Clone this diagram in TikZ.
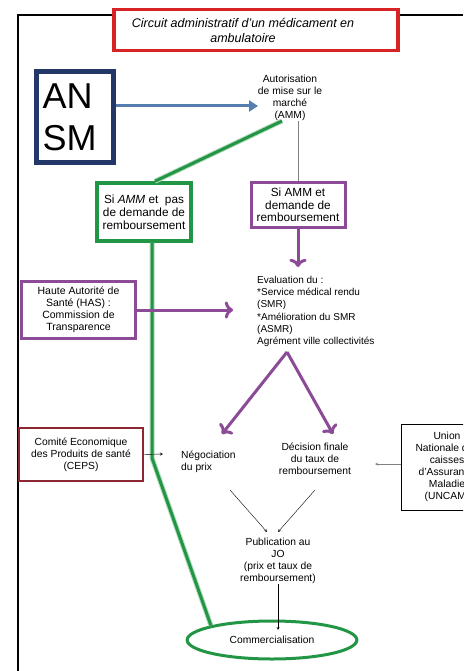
\documentclass[tikz,border=0pt]{standalone}
\usepackage{fontspec}
\setmainfont{Liberation Sans}
\usepackage[dvipsnames]{xcolor}
\usepackage{tikz}
\usetikzlibrary{shapes.geometric, arrows.meta}

\definecolor{ansmblue}{RGB}{35,55,105}
\definecolor{arrowblue}{RGB}{85,125,175}
\definecolor{boxgreen}{RGB}{35,150,70}
\definecolor{boxpurple}{RGB}{140,75,150}
\definecolor{titlered}{RGB}{215,35,35}
\definecolor{cepsred}{RGB}{140,40,50}

\begin{document}
\begin{tikzpicture}[x = 1pt, y = -1pt,
    txt/.style = {font = \fontsize{10.3}{12}\selectfont, align = center, inner sep = 0},
    gbox/.style = {draw = boxgreen, line width = 3.5pt, txt, font = \fontsize{11.8}{13}\selectfont},
    pbox/.style = {draw = boxpurple, line width = 3pt, txt, font = \fontsize{11.8}{12.5}\selectfont},
    gline/.style = {draw = boxgreen, line width = 3pt, preaction = {draw = boxgreen!35, line width = 5pt}},
    parrow/.style = {->, draw = boxpurple, line width = 3pt}]
    \clip (0,0) rectangle (463,671);
    \fill[white] (0,0) rectangle (463,671);
    \draw[line width = 1.2pt] (18,671) -- (18,15) -- (463,15);

    \node[draw = titlered, line width = 3.5pt, fill = white, minimum width = 284, minimum height = 41,
          align = center, inner sep = 0, font = \fontsize{12.5}{15}\selectfont\itshape] (titre) at (256,30)
          {Circuit administratif d'un médicament en\hspace*{26pt}\\ambulatoire\hspace*{26pt}};
    \node[draw = ansmblue, line width = 5pt, minimum width = 77, minimum height = 91, text width = 64,
          align = left, inner sep = 0, font = \fontsize{36}{42}\selectfont] (ansm) at (74.5,117.5) {AN\\SM};
    \node[txt] (amm) at (290,98) {Autorisation\\de mise sur le\\marché\\(AMM)};
    \node[gbox, minimum width = 94, minimum height = 58] (nonrem) at (144,212)
          {Si \textit{AMM} et~ pas\\de demande de\\remboursement};
    \node[pbox, minimum width = 94, minimum height = 45] (rembox) at (298,205)
          {Si AMM et\\demande de\\remboursement};
    \node[txt, align = left, anchor = north west, font = \fontsize{10}{12.2}\selectfont] (eval) at (257,276)
          {Evaluation du :\\*Service médical rendu\\(SMR)\\*Amélioration du SMR\\(ASMR)\\Agrément ville collectivités};
    \node[pbox, minimum width = 114, minimum height = 57, font = \fontsize{10.5}{12}\selectfont] (has) at (78.5,310)
          {Haute Autorité de\\Santé (HAS) :\\Commission de\\Transparence};
    \node[draw = cepsred, line width = 1.2pt, txt, minimum width = 124, minimum height = 53] (ceps) at (81,454.5)
          {Comité Economique\\des Produits de santé\\(CEPS)};
    \node[txt, align = left, anchor = west] (nego) at (181,462) {Négociation\\du prix};
    \node[txt] (decision) at (315,459) {Décision finale\\du taux de\\remboursement};
    \node[draw, line width = 1pt, txt, minimum width = 92, minimum height = 86] (uncam) at (447,467)
          {Union\\Nationale des\\caisses\\d'Assurance\\Maladie\\(UNCAM)};
    \node[txt] (pub) at (278,561) {Publication au\\JO\\(prix et taux de\\remboursement)};
    \node[draw = boxgreen, ellipse, line width = 3pt, minimum width = 132, minimum height = 38,
          txt, text width = 120] (comm) at (272,640) {Commercialisation\hspace*{18pt}};

    % free ends
    \coordinate (bluetip) at (258,106);
    \coordinate (evaltop) at (298,267);
    \coordinate (hastip) at (233,310);
    \coordinate (apex) at (287,352);
    \coordinate (negotip) at (222,434);
    \coordinate (dectip) at (333,434);
    \coordinate (cepstip) at (163,454);
    \coordinate (uncamtip) at (375,464);
    \coordinate (bend) at (152,458);
    \coordinate (n1) at (230,490);
    \coordinate (n2) at (267,532);
    \coordinate (d1) at (315,490);
    \coordinate (d2) at (278,532);
    \coordinate (commtip) at (278,630);

    \draw[-{Triangle[length = 9pt, width = 11pt]}, arrowblue, line width = 3pt] (ansm.east |- bluetip) -- (bluetip);
    \draw[gray] (amm.south -| rembox.north) -- (rembox.north);
    \draw[gline] ([xshift = -8pt]amm.south) -- ([xshift = 11pt]nonrem.north);
    \draw[gline] ([xshift = 8pt]nonrem.south) -- (bend) -- (comm.north west);
    \draw[parrow] (rembox.south) -- (evaltop);
    \draw[parrow] (has.east) -- (hastip);
    \draw[parrow] (apex) -- (negotip);
    \draw[parrow] (apex) -- (dectip);
    \draw[-stealth] (ceps.east) -- (cepstip);
    \draw[-stealth, gray] (uncam.west |- uncamtip) -- (uncamtip);
    \draw[-stealth] (n1) -- (n2);
    \draw[-stealth] (d1) -- (d2);
    \draw[-stealth] (pub.south) -- (commtip);
\end{tikzpicture}
\end{document}
